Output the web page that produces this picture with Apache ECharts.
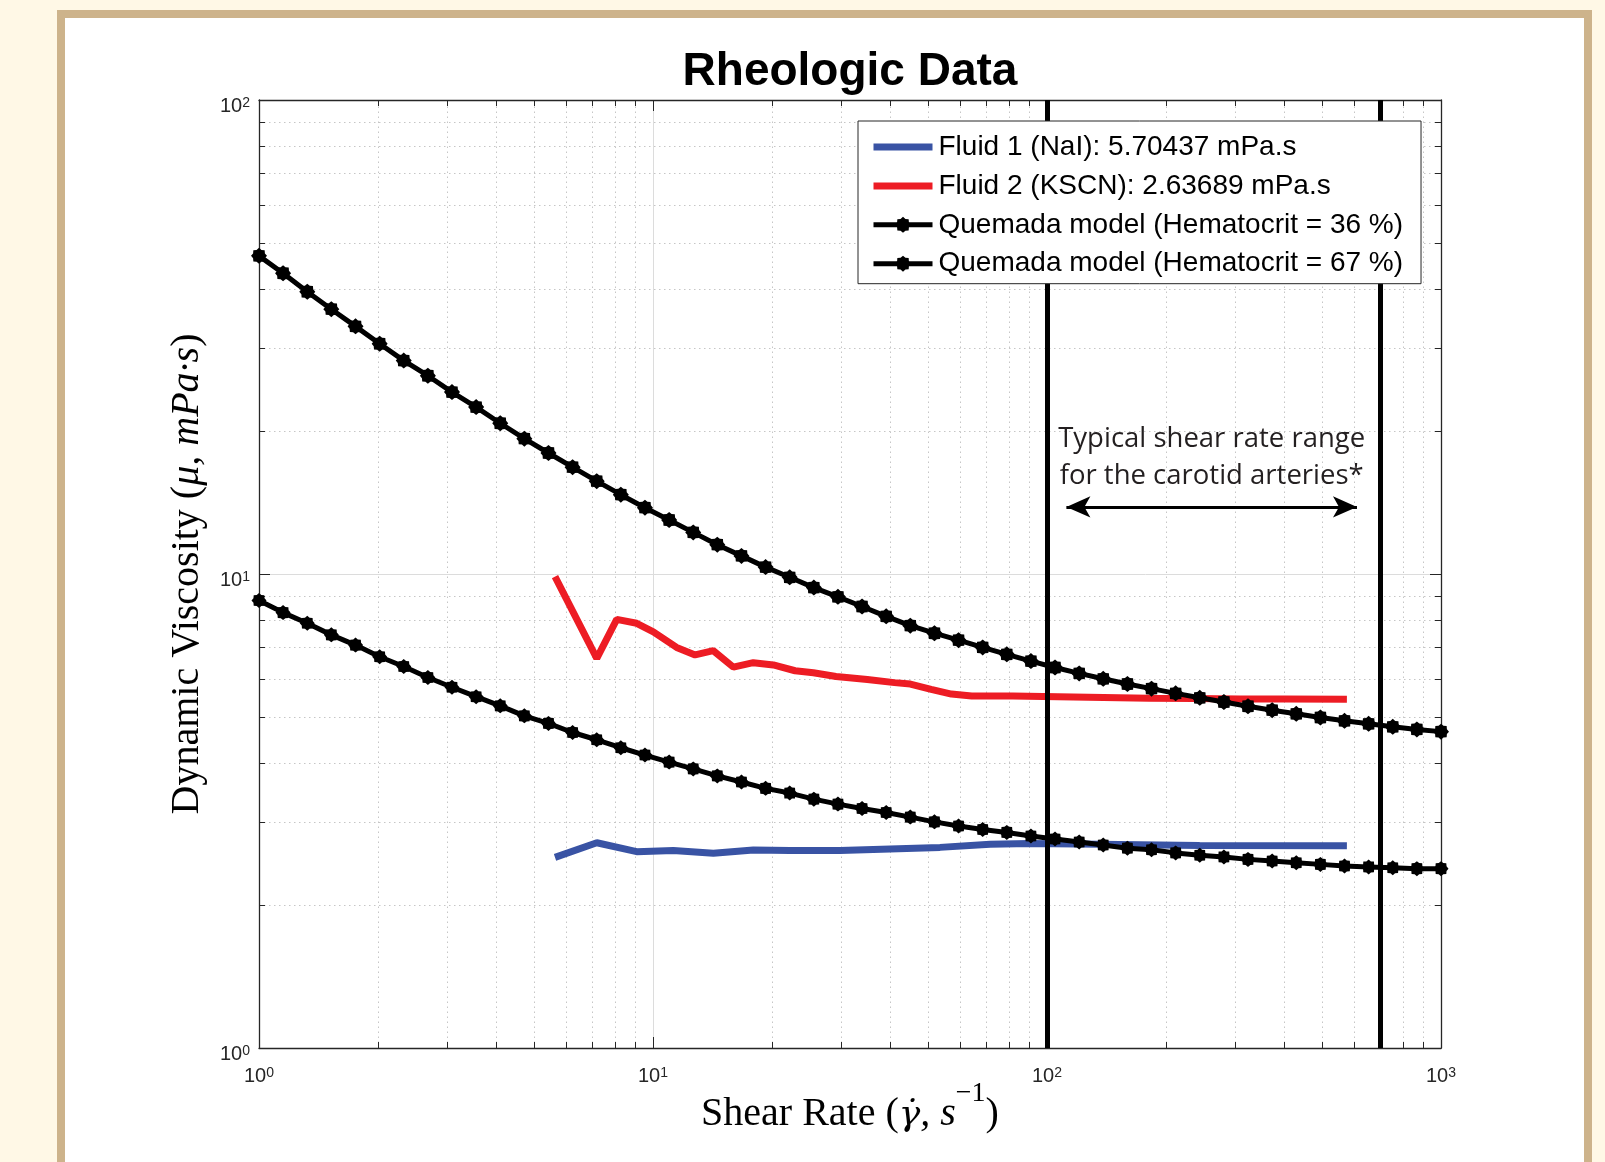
<!DOCTYPE html>
<html>
<head>
<meta charset="utf-8">
<script src="https://cdn.jsdelivr.net/npm/echarts@6/dist/echarts.min.js"></script>
<style>
html,body{margin:0;padding:0;width:1605px;height:1162px;overflow:hidden;background:#FFF8E6;}
#frame{position:absolute;left:57px;top:10px;width:1519px;height:1200px;border:8px solid #CDB38B;background:#ffffff;}
#chart{position:absolute;left:0;top:0;width:1605px;height:1162px;}
</style>
</head>
<body>
<div id="frame"></div>
<div id="chart"></div>
<script>
// ---- data ----
const shearRateModel = [1, 1.151, 1.326, 1.526, 1.758, 2.024, 2.330, 2.683, 3.089, 3.557, 4.095, 4.715, 5.429, 6.251, 7.197, 8.286, 9.541, 10.99, 12.65, 14.56, 16.77, 19.31, 22.23, 25.60, 29.47, 33.93, 39.07, 44.98, 51.80, 59.64, 68.67, 79.06, 91.03, 104.8, 120.7, 138.9, 160.0, 184.2, 212.1, 244.2, 281.2, 323.7, 372.8, 429.2, 494.2, 569.0, 655.1, 754.3, 868.5, 1000];
const viscosityQuemada36 = [8.79, 8.29, 7.87, 7.44, 7.08, 6.69, 6.38, 6.05, 5.77, 5.51, 5.27, 5.02, 4.84, 4.63, 4.47, 4.30, 4.15, 4.01, 3.88, 3.75, 3.64, 3.53, 3.45, 3.35, 3.27, 3.20, 3.14, 3.07, 3.00, 2.94, 2.89, 2.85, 2.80, 2.76, 2.72, 2.68, 2.64, 2.62, 2.58, 2.55, 2.53, 2.50, 2.48, 2.46, 2.44, 2.42, 2.41, 2.40, 2.39, 2.39];
const viscosityQuemada67 = [46.9, 43.1, 39.4, 36.2, 33.3, 30.6, 28.2, 26.2, 24.2, 22.5, 20.8, 19.3, 18.0, 16.8, 15.7, 14.7, 13.8, 13.0, 12.24, 11.53, 10.92, 10.34, 9.84, 9.36, 8.95, 8.54, 8.14, 7.78, 7.50, 7.25, 7.00, 6.77, 6.55, 6.35, 6.17, 6.01, 5.86, 5.73, 5.60, 5.48, 5.37, 5.26, 5.16, 5.07, 4.98, 4.90, 4.83, 4.76, 4.70, 4.65];
const shearRateFluid1 = [5.64, 7.20, 9.09, 11.26, 14.23, 17.97, 22.27, 29.8, 39.96, 53.5, 71.7, 90.5, 136, 244, 577];
const viscosityFluid1 = [2.525, 2.71, 2.595, 2.61, 2.575, 2.617, 2.61, 2.61, 2.63, 2.65, 2.69, 2.70, 2.69, 2.675, 2.67];
const shearRateFluid2 = [5.64, 7.20, 8.09, 9.09, 10.02, 11.48, 12.79, 14.23, 15.99, 17.97, 20.20, 22.94, 25.53, 29.15, 35.0, 41.0, 45.0, 50.8, 57.2, 64.4, 81.8, 106.6, 139.2, 181.5, 236.8, 309, 403, 577];
const viscosityFluid2 = [9.87, 6.64, 8.02, 7.87, 7.55, 7.00, 6.75, 6.89, 6.36, 6.50, 6.43, 6.25, 6.19, 6.08, 5.99, 5.90, 5.86, 5.71, 5.58, 5.53, 5.53, 5.51, 5.49, 5.47, 5.46, 5.45, 5.45, 5.44];
const seriesNames = ['Fluid 1 (NaI): 5.70437 mPa.s', 'Fluid 2 (KSCN): 2.63689 mPa.s', 'Quemada model (Hematocrit = 36 %)', 'Quemada model (Hematocrit = 67 %)'];
const rangeLines = [100, 700];
const rangeArrow = [112, 612];
const arrowLevel = 13.85;
const annotationText = 'Typical shear rate range\nfor the carotid arteries*';
const xMinorTicks = [2, 3, 4, 5, 6, 7, 8, 9, 20, 30, 40, 50, 60, 70, 80, 90, 200, 300, 400, 500, 600, 700, 800, 900];
const yMinorTicks = [2, 3, 4, 5, 6, 7, 8, 9, 20, 30, 40, 50, 60, 70, 80, 90];
const xRange = [1, 1000];
const yRange = [1, 100];

// ---- styling helpers ----
const AX = '#262626';
function starPath() {
  let d = '';
  for (let i = 0; i < 16; i++) {
    const a = i * Math.PI / 8;
    const r = (i % 2 === 0) ? 10 : 8;
    const x = (10 + r * Math.cos(a)).toFixed(2), y = (10 + r * Math.sin(a)).toFixed(2);
    d += (i === 0 ? 'M' : 'L') + x + ' ' + y + ' ';
  }
  return 'path://' + d + 'Z';
}
const STAR = starPath();
function zip(a, b) { return a.map((v, i) => [v, b[i]]); }
const tickRich = {
  b: {fontFamily: 'Liberation Sans', fontSize: 20, lineHeight: 20, color: AX, verticalAlign: 'bottom'},
  s: {fontFamily: 'Liberation Sans', fontSize: 14, lineHeight: 8, color: AX, verticalAlign: 'top'}
};
function tickFmt(v) { return '{b|10}{s|' + Math.round(Math.log10(v)) + '}'; }
const nameRich = {
  r: {fontFamily: 'Liberation Serif', fontSize: 40, lineHeight: 54, color: '#000', verticalAlign: 'bottom'},
  i: {fontFamily: 'Liberation Serif', fontStyle: 'italic', fontSize: 40, lineHeight: 54, color: '#000', verticalAlign: 'bottom'},
  g: {fontFamily: 'DejaVu Serif', fontStyle: 'italic', fontSize: 36, lineHeight: 54, color: '#000', verticalAlign: 'bottom'},
  sup: {fontFamily: 'Liberation Serif', fontSize: 28, lineHeight: 26, color: '#000', verticalAlign: 'top'}
};

function renderXMinor(params, api) {
  const v = api.value(0);
  const b = api.coord([v, yRange[0]]);
  const t = api.coord([v, yRange[1]]);
  const x = Math.round(b[0]) + 0.5;
  return {type: 'group', children: [
    {type: 'line', shape: {x1: x, y1: b[1], x2: x, y2: t[1]}, style: {stroke: '#c6c6c6', lineWidth: 1, lineDash: [1.5, 3.5]}},
    {type: 'line', shape: {x1: x, y1: b[1], x2: x, y2: b[1] - 6}, style: {stroke: AX, lineWidth: 1}},
    {type: 'line', shape: {x1: x, y1: t[1], x2: x, y2: t[1] + 6}, style: {stroke: AX, lineWidth: 1}}
  ]};
}
function renderYMinor(params, api) {
  const v = api.value(1);
  const l = api.coord([xRange[0], v]);
  const r = api.coord([xRange[1], v]);
  const y = Math.round(l[1]) + 0.5;
  return {type: 'group', children: [
    {type: 'line', shape: {x1: l[0], y1: y, x2: r[0], y2: y}, style: {stroke: '#c6c6c6', lineWidth: 1, lineDash: [1.5, 3.5]}},
    {type: 'line', shape: {x1: l[0], y1: y, x2: l[0] + 6, y2: y}, style: {stroke: AX, lineWidth: 1}},
    {type: 'line', shape: {x1: r[0], y1: y, x2: r[0] - 6, y2: y}, style: {stroke: AX, lineWidth: 1}}
  ]};
}

const baseAxis = {
  type: 'log', logBase: 10,
  axisLine: {show: true, lineStyle: {color: AX, width: 1.3}},
  axisTick: {show: true, inside: true, length: 11, lineStyle: {color: AX, width: 1}},
  minorTick: {show: false}, minorSplitLine: {show: false}
};

const chart = echarts.init(document.getElementById('chart'), null, {renderer: 'canvas'});
chart.setOption({
  animation: false,
  backgroundColor: 'transparent',
  grid: {left: 259, top: 100, width: 1182, height: 948, containLabel: false},
  graphic: [{
    type: 'text', x: 850, y: 72, z: 100,
    style: {text: 'Rheologic Data', fontFamily: 'Liberation Sans', fontWeight: 'bold', fontSize: 46, fill: '#000', textAlign: 'center', textVerticalAlign: 'middle'}
  }],
  legend: {
    orient: 'vertical', left: 858, top: 121,
    itemWidth: 59, itemHeight: 20, itemGap: 8.9,
    padding: [11, 18, 5, 12],
    backgroundColor: '#ffffff', borderColor: AX, borderWidth: 1, borderRadius: 0,
    selectedMode: false,
    textStyle: {fontFamily: 'Liberation Sans', fontSize: 28, lineHeight: 30, color: '#000', padding: [0, 0, 0, 1]},
    data: [
      {name: seriesNames[0], lineStyle: {width: 7}, itemStyle: {opacity: 0}},
      {name: seriesNames[1], lineStyle: {width: 7}, itemStyle: {opacity: 0}},
      {name: seriesNames[2], lineStyle: {width: 5}},
      {name: seriesNames[3], lineStyle: {width: 5}}
    ],
    z: 20
  },
  xAxis: [
    Object.assign({}, baseAxis, {
      position: 'bottom', min: xRange[0], max: xRange[1],
      axisLabel: {formatter: tickFmt, rich: tickRich, margin: 18},
      splitLine: {show: true, lineStyle: {color: '#dcdcdc', width: 1}},
      name: '{r|Shear Rate (}{g|γ̇}{i|, s}{sup|−1}{r|)}',
      nameLocation: 'middle', nameGap: 32, nameMoveOverlap: false,
      nameTextStyle: {rich: nameRich}
    }),
    Object.assign({}, baseAxis, {
      position: 'top', min: xRange[0], max: xRange[1],
      axisLabel: {show: false}, splitLine: {show: false}
    })
  ],
  yAxis: [
    Object.assign({}, baseAxis, {
      position: 'left', min: yRange[0], max: yRange[1],
      axisLabel: {formatter: tickFmt, rich: tickRich, margin: 9, padding: [13, 0, 0, 0]},
      splitLine: {show: true, lineStyle: {color: '#dcdcdc', width: 1}},
      name: '{r|Dynamic Viscosity (}{i|μ, mPa·s}{r|)}',
      nameLocation: 'middle', nameGap: 52, nameRotate: 90,
      nameTextStyle: {rich: nameRich}
    }),
    Object.assign({}, baseAxis, {
      position: 'right', min: yRange[0], max: yRange[1],
      axisLabel: {show: false}, splitLine: {show: false}
    })
  ],
  series: [
    {type: 'custom', name: 'xminor', renderItem: renderXMinor, data: xMinorTicks.map(v => [v, yRange[0]]), z: 1, silent: true, clip: false},
    {type: 'custom', name: 'yminor', renderItem: renderYMinor, data: yMinorTicks.map(v => [xRange[0], v]), z: 1, silent: true, clip: false},
    {
      type: 'line', name: seriesNames[0], data: zip(shearRateFluid1, viscosityFluid1),
      symbol: 'none', showSymbol: false, color: '#3953A4',
      lineStyle: {color: '#3953A4', width: 7}, z: 3
    },
    {
      type: 'line', name: seriesNames[1], data: zip(shearRateFluid2, viscosityFluid2),
      symbol: 'none', showSymbol: false, color: '#ED1C24',
      lineStyle: {color: '#ED1C24', width: 7}, z: 3
    },
    {
      type: 'line', name: seriesNames[2], data: zip(shearRateModel, viscosityQuemada36),
      symbol: STAR, symbolSize: 15, showSymbol: true, color: '#000',
      itemStyle: {color: '#000'}, lineStyle: {color: '#000', width: 5}, z: 4
    },
    {
      type: 'line', name: seriesNames[3], data: zip(shearRateModel, viscosityQuemada67),
      symbol: STAR, symbolSize: 16, showSymbol: true, color: '#000',
      itemStyle: {color: '#000'}, lineStyle: {color: '#000', width: 5}, z: 4
    },
    {
      type: 'line', name: 'range', data: [], z: 6, silent: true,
      markLine: {
        silent: true, symbol: 'none', animation: false,
        label: {show: false},
        lineStyle: {color: '#000', width: 5, type: 'solid'},
        emphasis: {disabled: true},
        data: rangeLines.map(v => ({xAxis: v}))
      }
    },
    {
      type: 'line', name: 'arrow', data: [], z: 6, silent: true,
      markLine: {
        silent: true, symbol: ['arrow', 'arrow'], symbolSize: [16, 24], animation: false,
        lineStyle: {color: '#000', width: 3, type: 'solid'},
        itemStyle: {color: '#000'},
        emphasis: {disabled: true},
        label: {
          show: true, position: 'insideMiddleTop', distance: 12,
          formatter: annotationText,
          fontFamily: 'Open Sans', fontSize: 27.5, lineHeight: 37, color: '#231F20', align: 'center'
        },
        data: [[{coord: [rangeArrow[0], arrowLevel]}, {coord: [rangeArrow[1], arrowLevel]}]]
      }
    }
  ]
});
</script>
</body>
</html>
